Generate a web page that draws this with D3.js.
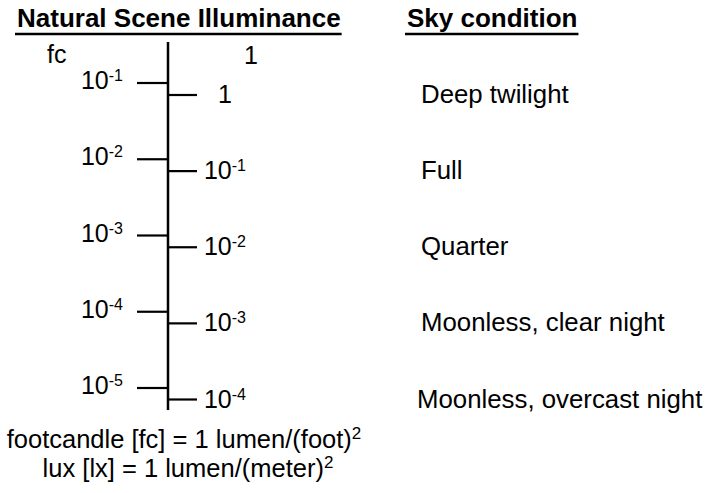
<!DOCTYPE html>
<html>
<head>
<meta charset="utf-8">
<script src="https://cdn.jsdelivr.net/npm/d3@7"></script>
<style>
  body { margin: 0; background: #fff; }
  svg text { font-family: "Liberation Sans", Arial, Helvetica, sans-serif; fill: #000; }
</style>
</head>
<body>
<svg id="chart" width="709" height="493"></svg>
<script>
// footcandle ticks (left) and lux ticks (right)
var fcValues = [1e-1, 1e-2, 1e-3, 1e-4, 1e-5];
var fcExponents = ["-1", "-2", "-3", "-4", "-5"];
var luxValues = [1, 1e-1, 1e-2, 1e-3, 1e-4];
var luxExponents = [null, "-1", "-2", "-3", "-4"];
var skyConditions = ["Deep twilight", "Full", "Quarter", "Moonless, clear night", "Moonless, overcast night"];

var svg = d3.select("#chart");

var axisX = 168;
var fcScale = d3.scaleLog().domain([1e-1, 1e-5]).range([82.5, 387.5]);
var luxScale = d3.scaleLog().domain([1, 1e-4]).range([94.5, 399]);

// titles with underline
function title(x, y, txt) {
  var t = svg.append("text")
    .attr("x", x).attr("y", y)
    .attr("font-size", "26px")
    .attr("font-weight", "bold")
    .text(txt);
  var w = t.node().getComputedTextLength();
  svg.append("line")
    .attr("x1", x - 2).attr("x2", x + w + 1)
    .attr("y1", y + 7).attr("y2", y + 7)
    .attr("stroke", "#000").attr("stroke-width", 2.5);
}
title(17, 27, "Natural Scene Illuminance");
title(407, 27, "Sky condition");

// unit headers
svg.append("text").attr("x", 47).attr("y", 63).attr("font-size", "25px").text("fc");
svg.append("text").attr("x", 251).attr("y", 64).attr("font-size", "25px")
  .attr("text-anchor", "middle").text("1");

// main vertical line
svg.append("line")
  .attr("x1", axisX).attr("x2", axisX)
  .attr("y1", 42).attr("y2", 410)
  .attr("stroke", "#000").attr("stroke-width", 2.5);

// left ticks (fc)
var leftAxis = svg.append("g")
  .attr("transform", "translate(" + (axisX - 1) + ",0)")
  .call(d3.axisLeft(fcScale).tickValues(fcValues).tickSize(30).tickFormat(function() { return ""; }));
leftAxis.select(".domain").remove();
leftAxis.selectAll(".tick line").attr("stroke", "#000").attr("stroke-width", 2.2);

// right ticks (lux)
var rightAxis = svg.append("g")
  .attr("transform", "translate(" + axisX + ",0)")
  .call(d3.axisRight(luxScale).tickValues(luxValues).tickSize(29).tickFormat(function() { return ""; }));
rightAxis.select(".domain").remove();
rightAxis.selectAll(".tick line").attr("stroke", "#000").attr("stroke-width", 2.2);

// power-of-ten labels
function powerLabel(sel, exp) {
  if (exp === null) {
    sel.text("1");
    return;
  }
  sel.append("tspan").text("10");
  sel.append("tspan").attr("font-size", "16px").attr("dy", -8).text(exp);
}

svg.selectAll(".fcLabel")
  .data(fcValues)
  .join("text")
  .attr("class", "fcLabel")
  .attr("x", 102)
  .attr("y", function(d) { return fcScale(d) + 6.5; })
  .attr("font-size", "25px")
  .attr("text-anchor", "middle")
  .each(function(d, i) { powerLabel(d3.select(this), fcExponents[i]); });

svg.selectAll(".luxLabel")
  .data(luxValues)
  .join("text")
  .attr("class", "luxLabel")
  .attr("x", 225)
  .attr("y", function(d) { return luxScale(d) + 8.5; })
  .attr("font-size", "25px")
  .attr("text-anchor", "middle")
  .each(function(d, i) { powerLabel(d3.select(this), luxExponents[i]); });

// sky condition labels, level with the lux ticks
svg.selectAll(".sky")
  .data(skyConditions)
  .join("text")
  .attr("class", "sky")
  .attr("x", function(d, i) { return i === 4 ? 417 : 421; })
  .attr("y", function(d, i) { return luxScale(luxValues[i]) + 8.5; })
  .attr("font-size", "25.8px")
  .text(function(d) { return d; });

// unit definitions
var foot = svg.append("text")
  .attr("x", 184).attr("y", 448)
  .attr("font-size", "25.5px").attr("text-anchor", "middle");
foot.append("tspan").text("footcandle [fc] = 1 lumen/(foot)");
foot.append("tspan").attr("font-size", "17px").attr("dy", -9).text("2");

var lux = svg.append("text")
  .attr("x", 188).attr("y", 477)
  .attr("font-size", "25.5px").attr("text-anchor", "middle");
lux.append("tspan").text("lux [lx] = 1 lumen/(meter)");
lux.append("tspan").attr("font-size", "17px").attr("dy", -9).text("2");
</script>
</body>
</html>
